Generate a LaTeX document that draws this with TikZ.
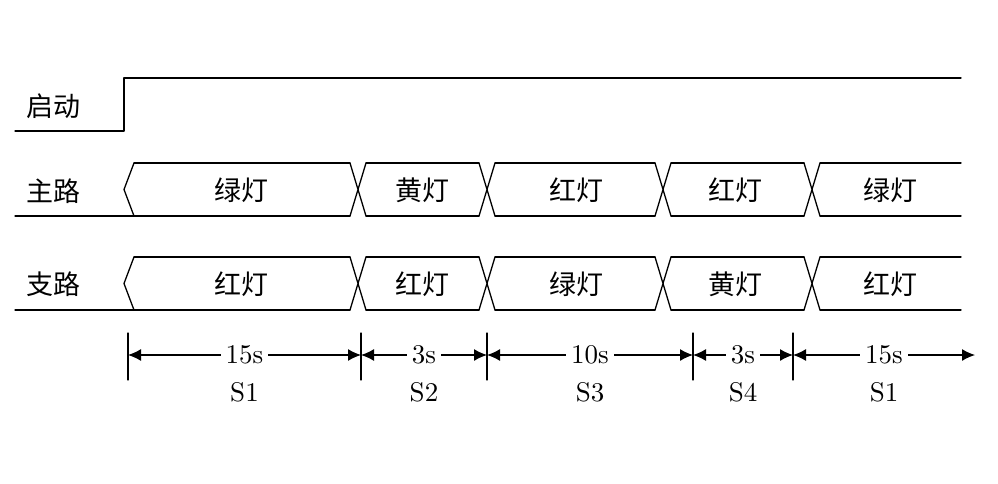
\documentclass[tikz,border=0pt]{standalone}
\usepackage{fontspec}
\newfontfamily\cjk{Noto Sans CJK SC}
\newfontfamily\numfont{lmroman10-regular}[Extension=.otf]
\usetikzlibrary{arrows.meta}
\tikzset{
  wave/.style={line width=1.3pt, line join=round, line cap=round},
  lbl/.style={font=\cjk\fontsize{27}{32}\selectfont, inner sep=0pt},
  dur/.style={font=\numfont\fontsize{27}{32}\selectfont, fill=white, inner xsep=5pt, inner ysep=0pt},
  phase/.style={font=\numfont\fontsize{27}{32}\selectfont, inner sep=0pt},
  span/.style={<->, line width=1.3pt, >={Latex[length=13pt,width=12pt]}}
}
\begin{document}
\begin{tikzpicture}[x=1pt, y=-1pt]
  \useasboundingbox (0,0) rectangle (998,484);
  % start signal
  \draw [wave] (15,131) -- (124,131) -- (124,78) -- (961,78);
  \node [lbl] (start) at (54,106) {启动};
  \node [lbl] (main) at (54,191) {主路};
  \node [lbl] (branch) at (54,284) {支路};
  % the two buses
  \foreach \T/\B in {163/216, 257/310} {
    \draw [wave] (15,\B) -- (350,\B);
    \draw [wave] (134,\T) -- (350,\T);
    \draw [wave] (134,\B) -- (124,{(\T+\B)/2}) -- (134,\T);
    \foreach \a/\b in {366/479, 495/655, 671/804, 820/961}
      \draw [wave] (\a,\T) -- (\b,\T) (\a,\B) -- (\b,\B);
    \foreach \c in {358,487,663,812}
      \draw [wave] (\c-8,\T) -- (\c+8,\B) (\c-8,\B) -- (\c+8,\T);
  }
  \foreach \x/\m/\s [count=\i] in {241/绿灯/红灯, 422/黄灯/红灯, 576/红灯/绿灯, 735/红灯/黄灯, 890/绿灯/红灯} {
    \node [lbl] (m\i) at (\x,190) {\m};
    \node [lbl] (s\i) at (\x,284) {\s};
  }
  % time axis
  \foreach \x [count=\i from 0] in {128,361,487,693,793} {
    \draw [wave] (\x,333) -- (\x,380);
    \coordinate (t\i) at (\x,355);
  }
  \coordinate (tE) at (975,355);
  \foreach \a/\b/\d/\s [count=\i] in {0/1/15s/S1, 1/2/3s/S2, 2/3/10s/S3, 3/4/3s/S4, 4/E/15s/S1}
    \draw [span] (t\a) -- (t\b) node [dur, midway] (d\i) {\d}
      node [phase, midway, yshift=-37pt] (n\i) {\s};
\end{tikzpicture}
\end{document}
